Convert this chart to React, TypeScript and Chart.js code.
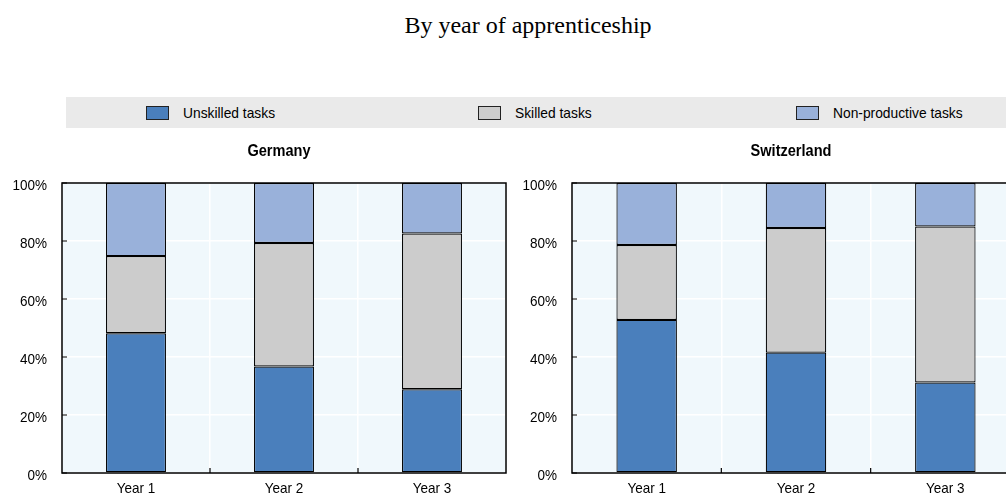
import React, { useEffect, useRef } from "react";
import { Chart, registerables } from "chart.js";

Chart.register(...registerables);

const categories = ["Year 1", "Year 2", "Year 3"];
const seriesNames = ["Unskilled tasks", "Skilled tasks", "Non-productive tasks"];
const seriesColors = ["#4A7FBC", "#CCCCCC", "#99B1DA"];

const germanyUnskilled = [48.2, 36.7, 28.9];
const germanySkilled = [26.6, 42.6, 53.7];
const germanyNonProductive = [25.2, 20.7, 17.4];

const switzerlandUnskilled = [52.8, 41.5, 31.2];
const switzerlandSkilled = [25.8, 43.0, 53.8];
const switzerlandNonProductive = [21.4, 15.5, 15.0];

const yTicks = [0, 20, 40, 60, 80, 100];

const FONT = "Arial, 'Liberation Sans', sans-serif";
const SQUEEZE = 0.9;

function squeezedText(ctx: CanvasRenderingContext2D, text: string, x: number, y: number, sx: number) {
  ctx.save();
  ctx.translate(x, y);
  ctx.scale(sx, 1);
  ctx.fillText(text, 0, 0);
  ctx.restore();
}

const framePlugin = {
  id: "frame",
  beforeDraw(chart: any) {
    const { ctx, chartArea: a } = chart;
    ctx.save();
    ctx.fillStyle = "#F0F8FC";
    ctx.fillRect(a.left, a.top, a.right - a.left, a.bottom - a.top);
    ctx.restore();
  },
  afterDraw(chart: any) {
    const { ctx, chartArea: a } = chart;
    const xs = chart.scales.x;
    const ys = chart.scales.y;
    ctx.save();
    ctx.strokeStyle = "#000";
    ctx.lineWidth = 1.5;
    ctx.strokeRect(a.left, a.top, a.right - a.left, a.bottom - a.top);
    ctx.lineWidth = 1.2;
    ctx.beginPath();
    yTicks.forEach((v) => {
      const y = ys.getPixelForValue(v);
      ctx.moveTo(a.left, y);
      ctx.lineTo(a.left + 5, y);
    });
    for (let i = 0; i < categories.length - 1; i++) {
      const x = (xs.getPixelForValue(i) + xs.getPixelForValue(i + 1)) / 2;
      ctx.moveTo(x, a.bottom);
      ctx.lineTo(x, a.bottom - 5);
    }
    ctx.stroke();

    ctx.fillStyle = "#000";
    ctx.textBaseline = "alphabetic";
    ctx.font = `15px ${FONT}`;
    ctx.textAlign = "right";
    yTicks.forEach((v) => {
      squeezedText(ctx, `${v}%`, a.left - 15, ys.getPixelForValue(v) + 6.5, SQUEEZE);
    });
    ctx.textAlign = "center";
    categories.forEach((c, i) => {
      squeezedText(ctx, c, xs.getPixelForValue(i), a.bottom + 19.5, SQUEEZE);
    });

    const title = chart.options.plugins.frame.title;
    ctx.font = `bold 16px ${FONT}`;
    ctx.textAlign = "center";
    squeezedText(ctx, title, (a.left + a.right) / 2 - 5, a.top - 27.5, 0.91);
    ctx.restore();
  },
};

function Panel(props: { title: string; values: number[][]; left: number; width: number }) {
  const ref = useRef<HTMLCanvasElement>(null);
  useEffect(() => {
    const chart = new Chart(ref.current as HTMLCanvasElement, {
      type: "bar",
      data: {
        labels: categories,
        datasets: props.values.map((vals, i) => ({
          label: seriesNames[i],
          data: vals,
          backgroundColor: seriesColors[i],
          borderColor: "#000000",
          borderWidth: 1.2,
          borderSkipped: false,
          barPercentage: 0.405,
          categoryPercentage: 1,
        })),
      },
      options: {
        responsive: false,
        animation: false,
        maintainAspectRatio: false,
        layout: { padding: { top: 53, right: 14, bottom: 0, left: 0 } },
        plugins: {
          legend: { display: false },
          tooltip: { enabled: false },
          title: { display: false },
          frame: { title: props.title },
        } as any,
        scales: {
          x: {
            stacked: true,
            offset: true,
            grid: { color: "#FFFFFF", lineWidth: 1.5, drawTicks: false, offset: true },
            border: { display: false },
            ticks: { display: false },
            afterFit(scale: any) {
              scale.height = 21;
            },
          },
          y: {
            stacked: true,
            min: 0,
            max: 100,
            grid: { color: "#FFFFFF", lineWidth: 1.5, drawTicks: false },
            border: { display: false },
            ticks: { stepSize: 20, display: false },
            afterFit(scale: any) {
              scale.width = 62;
            },
          },
        },
      },
      plugins: [framePlugin],
    });
    return () => chart.destroy();
  }, []);
  return (
    <canvas
      ref={ref}
      width={props.width}
      height={364}
      style={{ position: "absolute", left: props.left, top: 130, width: props.width, height: 364 }}
    />
  );
}

function LegendItem(props: { label: string; color: string; left: number }) {
  return (
    <div style={{ position: "absolute", left: props.left, top: 0, height: 31, display: "flex", alignItems: "center" }}>
      <div style={{ width: 21, height: 12, background: props.color, border: "1px solid #222", marginRight: 14 }} />
      <span
        style={{
          fontFamily: FONT,
          fontSize: 15,
          color: "#000",
          display: "inline-block",
          transform: "scaleX(0.92)",
          transformOrigin: "left center",
          whiteSpace: "nowrap",
        }}
      >
        {props.label}
      </span>
    </div>
  );
}

export default function App() {
  return (
    <div style={{ position: "absolute", left: 0, top: 0, width: 1006, height: 494, overflow: "hidden", background: "#fff" }}>
      <div
        style={{
          position: "absolute",
          left: 0,
          width: 1006,
          top: 12,
          textAlign: "center",
          fontFamily: "'Times New Roman', 'Liberation Serif', serif",
          fontSize: 24,
          paddingLeft: 50,
          boxSizing: "border-box",
          color: "#000",
          whiteSpace: "nowrap",
        }}
      >
        By year of apprenticeship
      </div>
      <div style={{ position: "absolute", left: 66, top: 97, width: 940, height: 31, background: "#EAEAEA" }}>
        <LegendItem label={seriesNames[0]} color={seriesColors[0]} left={80} />
        <LegendItem label={seriesNames[1]} color={seriesColors[1]} left={412} />
        <LegendItem label={seriesNames[2]} color={seriesColors[2]} left={730} />
      </div>
      <Panel title="Germany" values={[germanyUnskilled, germanySkilled, germanyNonProductive]} left={0} width={520} />
      <Panel
        title="Switzerland"
        values={[switzerlandUnskilled, switzerlandSkilled, switzerlandNonProductive]}
        left={510}
        width={524}
      />
    </div>
  );
}
